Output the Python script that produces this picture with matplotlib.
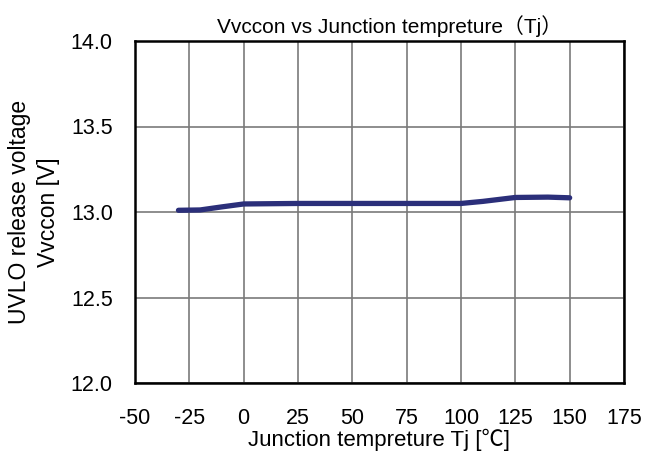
import matplotlib
matplotlib.use("Agg")
import matplotlib.pyplot as plt

plt.rcParams['font.family'] = ['Liberation Sans', 'DejaVu Sans']

temps = [-30, -20, -10, 0, 25, 50, 75, 100, 110, 125, 140, 150]
vvccon = [13.01, 13.012, 13.03, 13.047, 13.05, 13.05, 13.05, 13.05, 13.062, 13.085, 13.087, 13.083]
xticks = [-50, -25, 0, 25, 50, 75, 100, 125, 150, 175]
yticks = [12.0, 12.5, 13.0, 13.5, 14.0]

fig = plt.figure(figsize=(6.46, 4.59), dpi=100)
ax = fig.add_axes([135/646, 1-383/459, 489/646, 342/459])
ax.plot(temps, vvccon, color='#2B2F7A', lw=3.8, solid_capstyle='round', solid_joinstyle='round')
ax.set_xlim(-50, 175)
ax.set_ylim(12.0, 14.0)
ax.set_xticks(xticks)
ax.set_yticks(yticks)
ax.set_yticklabels([f"{v:.1f}" for v in yticks])
ax.set_xticklabels([str(v) for v in xticks])
ax.grid(True, color='#7a7a7a', lw=1.2)
ax.tick_params(length=0, labelsize=15.5)
ax.tick_params(axis='x', pad=18)
ax.tick_params(axis='y', pad=16)
for s in ax.spines.values():
    s.set_linewidth(1.8)
    s.set_color('black')
ax.set_title('Vvccon vs Junction tempreture（Tj）', fontsize=15,
             family=['Liberation Sans', 'Noto Sans CJK JP'], pad=6, x=0.52)
ax.set_xlabel('Junction tempreture Tj [℃]', fontsize=16, labelpad=0,
              family=['Liberation Sans', 'Noto Sans CJK JP', 'DejaVu Sans'])
ax.set_ylabel('UVLO release voltage\nVvccon [V]', fontsize=16.5, labelpad=8, linespacing=1.3)
fig.savefig('out.png', dpi=100)
